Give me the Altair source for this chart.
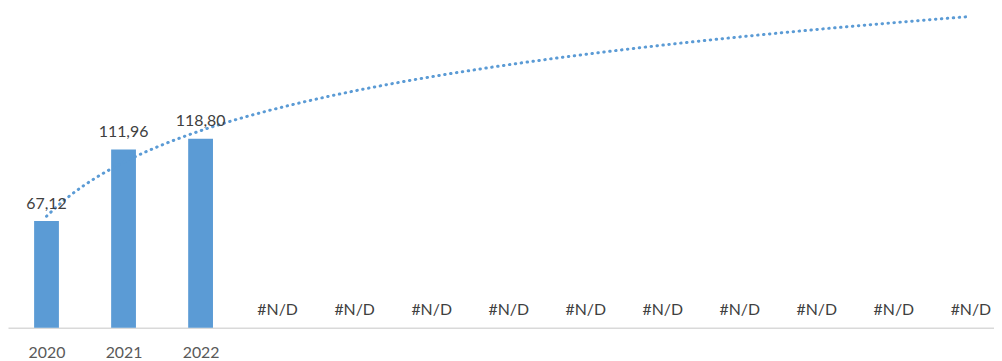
import json
import altair as alt
import pandas as pd

categories = ["2020", "2021", "2022", "", "", "", "", "", "", "", "", "", ""]
values = [67.12, 111.96, 118.80, None, None, None, None, None, None, None, None, None, None]
year_labels = ["2020", "2021", "2022"]


def fmt(v):
    return "#N/D" if v is None else f"{v:.2f}".replace(".", ",")


df = pd.DataFrame({
    "idx": list(range(len(categories))),
    "cat": categories,
    "value": values,
    "label": [fmt(v) for v in values],
})

FONT = "Lato"
BLUE = "#5B9BD5"

x_enc = alt.X(
    "idx:Q",
    scale=alt.Scale(domain=[-0.5, 12.3], nice=False, zero=False, padding=0),
    axis=alt.Axis(
        values=list(range(len(year_labels))),
        labelExpr=json.dumps(year_labels) + "[datum.value]",
        ticks=False, grid=False, title=None,
        labelPadding=17, labelFontSize=16, labelFont=FONT, labelColor="#595959",
        domainColor="#D9D9D9", domainWidth=1.5,
    ),
)
y_scale = alt.Scale(domain=[0, 200], nice=False, padding=0)

base = alt.Chart(df)

bars = base.mark_bar(size=25, color=BLUE).encode(
    x=x_enc,
    y=alt.Y("value:Q", scale=y_scale, axis=None),
)

labels = base.transform_calculate(
    ly="isValid(datum.value) ? datum.value : 0"
).mark_text(
    font=FONT, fontSize=16, color="#404040", baseline="alphabetic", dy=-12.5
).encode(
    x="idx:Q",
    y=alt.Y("ly:Q", scale=y_scale),
    text="label:N",
)

trend = base.transform_filter(
    "isValid(datum.value)"
).transform_calculate(
    xp="datum.idx + 1"
).transform_regression(
    "xp", "value", method="log", extent=[1, len(categories)]
).transform_calculate(
    idx="datum.xp - 1"
).mark_line(
    color=BLUE, strokeWidth=3, strokeCap="round", strokeDash=[0.5, 5.5]
).encode(
    x="idx:Q",
    y=alt.Y("value:Q", scale=y_scale),
)

chart = alt.layer(bars, trend, labels).properties(
    width=994, height=321,
    padding={"left": 0, "top": 0, "right": 0, "bottom": 0},
).configure_view(stroke=None)

chart.save("out.html", embed_options={"renderer": "svg", "actions": False})
